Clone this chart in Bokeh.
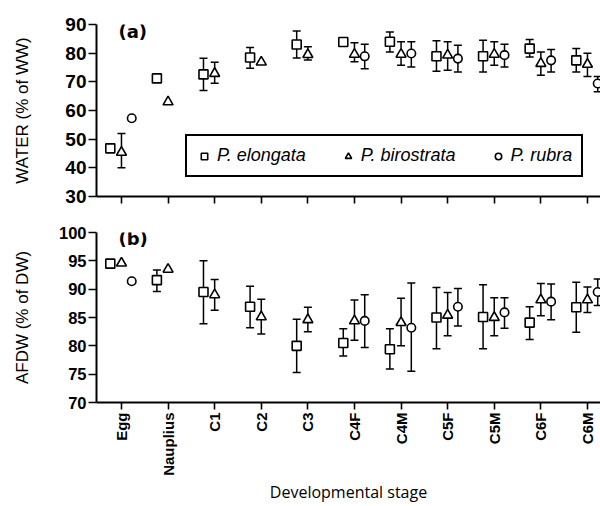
import numpy as np
from bokeh.plotting import figure
from bokeh.models import (Range1d, FixedTicker, Whisker, TeeHead, ColumnDataSource,
                          Legend, LegendItem, Label)
from bokeh.layouts import column
from bokeh.embed import file_html
from bokeh.resources import INLINE

stages = ["Egg", "Nauplius", "C1", "C2", "C3", "C4F", "C4M", "C5F", "C5M", "C6F", "C6M"]
species = ["P. elongata", "P. birostrata", "P. rubra"]

# (a) Water content (% of wet weight)
water_elongata = [46.8, 71.2, 72.6, 78.5, 83.0, 83.9, 84.0, 78.9, 78.9, 81.6, 77.5]
water_elongata_lo = [None, None, 67.0, 74.7, 78.3, None, 80.4, 73.7, 73.4, 78.7, 73.4]
water_elongata_hi = [None, None, 78.2, 82.0, 87.7, None, 87.4, 84.3, 84.5, 84.8, 81.6]
water_birostrata = [45.4, 63.0, 72.9, 76.9, 79.5, 79.6, 79.6, 79.3, 79.6, 76.4, 76.1]
water_birostrata_lo = [40.0, None, 69.5, None, 77.6, 77.0, 75.8, 74.0, 75.8, 72.3, 71.9]
water_birostrata_hi = [52.0, None, 76.8, None, 82.2, 83.6, 84.0, 84.0, 84.0, 80.4, 80.0]
water_rubra = [57.3, None, None, None, None, 78.9, 79.9, 78.1, 79.3, 77.5, 69.4]
water_rubra_lo = [None, None, None, None, None, 74.6, 75.2, 73.4, 75.2, 73.4, 66.5]
water_rubra_hi = [None, None, None, None, None, 83.1, 84.0, 82.8, 83.1, 81.3, 71.9]

# (b) Ash-free dry weight (% of dry weight)
afdw_elongata = [94.5, 91.6, 89.5, 86.9, 80.0, 80.5, 79.4, 85.0, 85.1, 84.1, 86.8]
afdw_elongata_lo = [None, 89.6, 83.9, 83.2, 75.3, 78.2, 75.9, 79.5, 79.5, 81.1, 82.4]
afdw_elongata_hi = [None, 93.4, 95.0, 90.5, 84.7, 83.0, 83.0, 90.3, 90.8, 86.9, 91.2]
afdw_birostrata = [94.6, 93.5, 89.0, 85.1, 84.6, 84.4, 84.1, 85.4, 85.0, 88.1, 88.1]
afdw_birostrata_lo = [None, None, 86.3, 82.1, 82.5, 81.0, 80.0, 81.8, 81.8, 85.3, 85.9]
afdw_birostrata_hi = [None, None, 91.7, 88.2, 86.8, 88.1, 88.4, 89.4, 88.5, 91.0, 90.4]
afdw_rubra = [91.4, None, None, None, None, 84.4, 83.2, 86.9, 85.9, 87.8, 89.5]
afdw_rubra_lo = [None, None, None, None, None, 79.7, 75.5, 83.5, 83.1, 84.6, 87.1]
afdw_rubra_hi = [None, None, None, None, None, 89.0, 91.1, 90.1, 88.5, 90.9, 91.8]

water_ticks = [30, 40, 50, 60, 70, 80, 90]
afdw_ticks = [70, 75, 80, 85, 90, 95, 100]

OFFSETS = [-0.24, 0.0, 0.22]
MARKERS = ["square", "triangle", "circle"]
SIZES = [9, 10, 8.5]
TICK_FONT = "Liberation Sans"


def add_series(p, mean, lo, hi, k):
    idx = [i for i, m in enumerate(mean) if m is not None]
    eidx = [i for i in idx if lo[i] is not None]
    esrc = ColumnDataSource(dict(x=[i + OFFSETS[k] for i in eidx],
                                 lower=[lo[i] for i in eidx],
                                 upper=[hi[i] for i in eidx]))
    w = Whisker(source=esrc, base="x", lower="lower", upper="upper", dimension="height",
                line_width=1.5, line_color="black", level="underlay",
                upper_head=TeeHead(size=8, line_width=1.5, line_color="black"),
                lower_head=TeeHead(size=8, line_width=1.5, line_color="black"))
    p.add_layout(w)
    src = ColumnDataSource(dict(x=[i + OFFSETS[k] for i in idx], y=[mean[i] for i in idx]))
    r = p.scatter("x", "y", source=src, marker=MARKERS[k], size=SIZES[k],
                  fill_color="white", line_color="black", line_width=1.6)
    return r


def make_fig(yr, yticks, ylabel, ytick_size, label_standoff, top, bottom, fh):
    p = figure(frame_width=504, frame_height=fh, output_backend="svg", toolbar_location=None,
               x_range=Range1d(-0.536, 10.28), y_range=Range1d(*yr),
               min_border_left=96, min_border_right=0, min_border_top=top,
               min_border_bottom=bottom)
    p.outline_line_color = None
    p.xgrid.visible = False
    p.ygrid.visible = False
    p.background_fill_color = "white"
    for ax in (p.xaxis[0], p.yaxis[0]):
        ax.axis_line_width = 2
        ax.major_tick_line_width = 1.6
        ax.minor_tick_line_color = None
        ax.major_tick_in = 0
        ax.axis_line_color = "black"
        ax.major_tick_line_color = "black"
        ax.major_label_text_color = "black"
    p.xaxis.ticker = FixedTicker(ticks=list(range(len(stages))))
    p.xaxis.major_label_overrides = {i: s for i, s in enumerate(stages)}
    p.xaxis.major_tick_out = 7
    p.yaxis.ticker = FixedTicker(ticks=yticks)
    p.yaxis.major_tick_out = 8
    p.yaxis.major_label_standoff = 2
    p.yaxis.major_label_text_font = TICK_FONT
    p.yaxis.major_label_text_font_style = "bold"
    p.yaxis.major_label_text_font_size = ytick_size
    p.yaxis.axis_label = ylabel
    p.yaxis.axis_label_text_font = "Liberation Sans"
    p.yaxis.axis_label_text_font_style = "normal"
    p.yaxis.axis_label_text_font_size = "17px"
    p.yaxis.axis_label_text_color = "black"
    p.yaxis.axis_label_standoff = label_standoff
    return p


# ---- panel (a)
p1 = make_fig((30, 90), water_ticks, "WATER (% of WW)", "19px", 30, 24, 18, 172)
p1.xaxis.major_label_text_color = None
p1.xaxis.major_label_text_font_size = "2px"
p1.xaxis.major_label_standoff = 0
r1 = add_series(p1, water_elongata, water_elongata_lo, water_elongata_hi, 0)
r2 = add_series(p1, water_birostrata, water_birostrata_lo, water_birostrata_hi, 1)
r3 = add_series(p1, water_rubra, water_rubra_lo, water_rubra_hi, 2)
legend = Legend(items=[LegendItem(label=species[0], renderers=[r1]),
                       LegendItem(label=species[1], renderers=[r2]),
                       LegendItem(label=species[2], renderers=[r3])],
                orientation="horizontal", location=(89, 19),
                border_line_color="black", border_line_width=2, border_line_alpha=1,
                label_text_font="Liberation Sans", label_text_font_style="italic",
                label_text_font_size="18px", label_text_color="black",
                glyph_width=16, glyph_height=20, label_standoff=5, spacing=34,
                padding=9, margin=0, background_fill_alpha=1)
p1.add_layout(legend, "center")
p1.add_layout(Label(x=22, y=90, x_units="screen", text="(a)", text_baseline="top",
                    text_font="DejaVu Sans", text_font_style="bold", text_font_size="18px",
                    y_offset=4, text_color="black"))

# ---- panel (b)
p2 = make_fig((70, 100), afdw_ticks, "AFDW (% of DW)", "16.5px", 24, 18, 90, 170)
add_series(p2, afdw_elongata, afdw_elongata_lo, afdw_elongata_hi, 0)
add_series(p2, afdw_birostrata, afdw_birostrata_lo, afdw_birostrata_hi, 1)
add_series(p2, afdw_rubra, afdw_rubra_lo, afdw_rubra_hi, 2)
p2.xaxis.major_label_orientation = np.pi / 2
p2.xaxis.major_label_standoff = 3
p2.xaxis.major_label_text_font = TICK_FONT
p2.xaxis.major_label_text_font_style = "bold"
p2.xaxis.major_label_text_font_size = "15px"
p2.xaxis.axis_label = "Developmental stage"
p2.xaxis.axis_label_text_font = "Open Sans"
p2.xaxis.axis_label_text_font_style = "normal"
p2.xaxis.axis_label_text_font_size = "16px"
p2.xaxis.axis_label_text_color = "black"
p2.xaxis.axis_label_standoff = 2
p2.add_layout(Label(x=22, y=100, x_units="screen", text="(b)", text_baseline="top",
                    text_font="DejaVu Sans", text_font_style="bold", text_font_size="18px",
                    y_offset=5, text_color="black"))

layout = column(p1, p2, spacing=0)
open("out.html", "w").write(file_html(layout, INLINE))
